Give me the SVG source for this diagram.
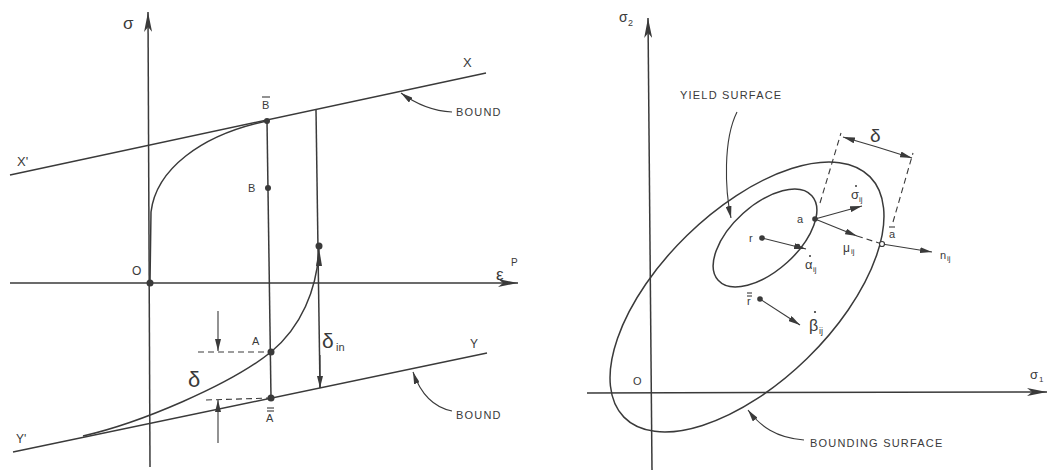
<svg xmlns="http://www.w3.org/2000/svg" width="1049" height="472" viewBox="0 0 1049 472">
<style>
.ln{stroke:#3a3a3a;stroke-width:1.5;fill:none}
.th{stroke:#3a3a3a;stroke-width:1.1;fill:none}
.ds{stroke:#3a3a3a;stroke-width:1.1;fill:none;stroke-dasharray:6 4}
.t{font-family:"Liberation Sans",Arial,sans-serif;fill:#3a3a3a}
.cap{font-size:11px;letter-spacing:1.2px}
.pt{fill:#3a3a3a}
</style>
<defs>
<marker id="ah" viewBox="0 0 12 6" refX="12" refY="3" markerWidth="12" markerHeight="6" markerUnits="userSpaceOnUse" orient="auto">
<path d="M0,0 L12,3 L0,6 z" fill="#3a3a3a"/>
</marker>
<marker id="ax" viewBox="0 0 20 8" refX="20" refY="4" markerWidth="20" markerHeight="8" markerUnits="userSpaceOnUse" orient="auto">
<path d="M0,0 L20,4 L0,8 L5,4 z" fill="#3a3a3a"/>
</marker>
</defs>
<rect width="1049" height="472" fill="#fff"/>

<g id="left-axes">
<line class="ln" x1="150" y1="467" x2="148" y2="12" marker-end="url(#ax)"/>
<line class="ln" x1="10" y1="283" x2="518" y2="283" marker-end="url(#ax)"/>
<text class="t" x="123" y="29" font-size="17">σ</text>
<text class="t" x="496" y="280" font-size="17">ε</text>
<text class="t" x="511" y="266" font-size="10">P</text>
<text class="t" x="132" y="275" font-size="12">O</text>
</g>

<g id="bound-upper">
<line class="ln" x1="10" y1="175" x2="486" y2="73"/>
<text class="t" x="463" y="67" font-size="13">X</text>
<text class="t" x="17" y="166" font-size="13">X'</text>
<path class="th" d="M452,112 C432,111 416,104 401,93" marker-end="url(#ah)"/>
<text class="t cap" x="456" y="116">BOUND</text>
</g>

<g id="bound-lower">
<line class="ln" x1="13" y1="452" x2="487" y2="353"/>
<text class="t" x="470" y="348" font-size="12">Y</text>
<text class="t" x="16" y="443" font-size="12">Y'</text>
<path class="th" d="M452,411 C432,407 420,392 413,372" marker-end="url(#ah)"/>
<text class="t cap" x="456" y="419">BOUND</text>
</g>

<g id="loading-curve">
<path class="ln" d="M150,283 L151,212 C156,170 200,135 267,121"/>
<path class="ln" d="M83,436 C140,423 230,385 271,352 C300,328 318,290 319,246"/>
<path class="pt" d="M319,248 L322,266 L316,266 z"/>
</g>

<g id="vertical-lines">
<line class="ln" x1="267" y1="121" x2="271" y2="398"/>
<line class="ln" x1="316" y1="110" x2="320" y2="388"/>
<line class="th" x1="320" y1="355" x2="320" y2="388" marker-end="url(#ah)"/>
</g>

<g id="points-left">
<circle class="pt" cx="150" cy="283" r="3.5"/>
<circle class="pt" cx="267" cy="121" r="3"/>
<circle class="pt" cx="268" cy="188" r="3"/>
<circle class="pt" cx="271" cy="352" r="3.5"/>
<circle class="pt" cx="271" cy="398" r="3.5"/>
<circle class="pt" cx="319" cy="246" r="3.5"/>
<text class="t" x="262" y="109" font-size="11">B</text>
<line class="th" x1="262" y1="97" x2="270" y2="97"/>
<text class="t" x="248" y="192" font-size="11">B</text>
<text class="t" x="252" y="345" font-size="11">A</text>
<text class="t" x="266" y="422" font-size="11">A</text>
<line class="th" x1="267" y1="408" x2="274" y2="408"/>
<line class="th" x1="267" y1="411" x2="274" y2="411"/>
</g>

<g id="delta-dims">
<line class="ds" x1="198" y1="352" x2="271" y2="352"/>
<line class="ds" x1="206" y1="400" x2="271" y2="398"/>
<line class="th" x1="218" y1="311" x2="218" y2="351" marker-end="url(#ah)"/>
<line class="th" x1="218" y1="443" x2="218" y2="400" marker-end="url(#ah)"/>
<text class="t" x="188" y="387" font-size="22">δ</text>
<text class="t" x="322" y="348" font-size="21">δ</text>
<text class="t" x="336" y="351" font-size="11">in</text>
</g>

<g id="right-axes">
<line class="ln" x1="652" y1="470" x2="648" y2="18" marker-end="url(#ax)"/>
<line class="ln" x1="587" y1="393" x2="1047" y2="392" marker-end="url(#ax)"/>
<text class="t" x="619" y="22" font-size="14">σ</text>
<text class="t" x="628" y="26" font-size="9">2</text>
<text class="t" x="1030" y="379" font-size="13">σ</text>
<text class="t" x="1039" y="382" font-size="8">1</text>
<text class="t" x="633" y="385" font-size="11">O</text>
</g>

<g id="bounding-surface">
<ellipse class="ln" cx="747" cy="297" rx="172" ry="86" transform="rotate(-44.3 747 297)"/>
<path class="th" d="M804,440 C776,438 760,426 748,410" marker-end="url(#ah)"/>
<text class="t cap" x="810" y="447">BOUNDING SURFACE</text>
</g>

<g id="yield-surface">
<ellipse class="ln" cx="765" cy="238" rx="63" ry="33" transform="rotate(-42 765 238)"/>
<path class="th" d="M737,112 C723,140 725,190 731,218" marker-end="url(#ah)"/>
<text class="t cap" x="680" y="99">YIELD SURFACE</text>
</g>

<g id="vectors">
<line class="th" x1="815" y1="219" x2="862" y2="206" marker-end="url(#ah)"/>
<line class="th" x1="815" y1="219" x2="857" y2="236" marker-end="url(#ah)"/>
<line class="ds" x1="857" y1="236" x2="882" y2="244" stroke-dasharray="3 3"/>
<line class="th" x1="882" y1="244" x2="932" y2="252" marker-end="url(#ah)"/>
<line class="th" x1="762" y1="238" x2="806" y2="249" marker-end="url(#ah)"/>
<line class="th" x1="760" y1="299" x2="800" y2="325" marker-end="url(#ah)"/>
<circle class="pt" cx="815" cy="219" r="2.8"/>
<circle fill="#fff" stroke="#3a3a3a" stroke-width="1.2" cx="882" cy="244" r="2.5"/>
<circle class="pt" cx="762" cy="238" r="2.8"/>
<circle class="pt" cx="760" cy="299" r="2.8"/>
<circle class="pt" cx="798" cy="246" r="2.2"/>
<text class="t" x="797" y="223" font-size="11">a</text>
<text class="t" x="851" y="199" font-size="13">σ</text>
<circle class="pt" cx="856" cy="186" r="1"/>
<text class="t" x="859" y="202" font-size="8">ij</text>
<text class="t" x="843" y="252" font-size="12">μ</text>
<text class="t" x="851" y="254" font-size="8">ij</text>
<text class="t" x="889" y="238" font-size="11">a</text>
<line class="th" x1="889" y1="227" x2="895" y2="227"/>
<text class="t" x="940" y="259" font-size="11">n</text>
<text class="t" x="947" y="261" font-size="8">ij</text>
<text class="t" x="749" y="242" font-size="11">r</text>
<text class="t" x="805" y="269" font-size="13">α</text>
<circle class="pt" cx="810" cy="256" r="1"/>
<text class="t" x="813" y="272" font-size="8">ij</text>
<text class="t" x="747" y="305" font-size="11">r</text>
<line class="th" x1="747" y1="293" x2="752" y2="293"/>
<line class="th" x1="747" y1="296" x2="752" y2="296"/>
<text class="t" x="809" y="331" font-size="16">β</text>
<circle class="pt" cx="815" cy="312" r="1.1"/>
<text class="t" x="819" y="334" font-size="9">ij</text>
</g>

<g id="delta-right">
<line class="ds" x1="820" y1="203" x2="841" y2="133"/>
<line class="ds" x1="893" y1="222" x2="913" y2="153"/>
<line class="th" x1="877" y1="147" x2="843" y2="137" marker-end="url(#ah)"/>
<line class="th" x1="877" y1="147" x2="912" y2="158" marker-end="url(#ah)"/>
<text class="t" x="870" y="142" font-size="19">δ</text>
</g>
</svg>
